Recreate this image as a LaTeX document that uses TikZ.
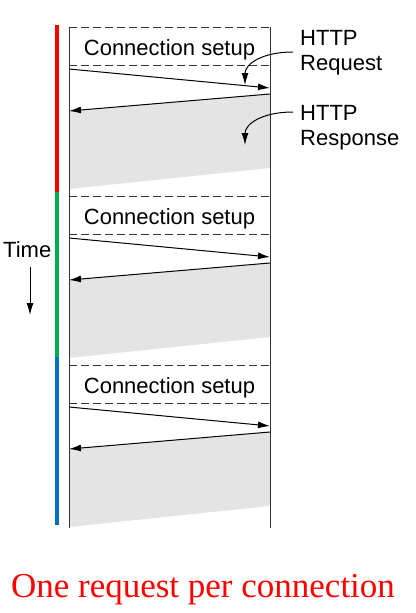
\documentclass[tikz,border=0pt]{standalone}
\usepackage{fontspec}
\setmainfont{Liberation Serif}
\setsansfont{Liberation Sans}
\usetikzlibrary{arrows.meta}
\definecolor{barred}{HTML}{FF0000}
\definecolor{bargreen}{HTML}{00B050}
\definecolor{barblue}{HTML}{0070C0}
\definecolor{respgrey}{HTML}{E4E4E4}
\definecolor{linegrey}{HTML}{333333}
\tikzset{
  dashline/.style={draw=linegrey, line width=0.9pt, dash pattern=on 8pt off 4pt},
  sideline/.style={draw=linegrey, line width=1pt},
  msg/.style={draw=black, line width=1pt, -{Latex[length=12pt,width=7pt]}},
  callout/.style={draw=black, line width=1pt, -{Latex[length=12pt,width=7pt]}},
  lbl/.style={font=\sffamily\fontsize{22}{25}\selectfont, text=black, inner sep=0pt, anchor=base},
  side/.style={font=\sffamily\fontsize{22}{25}\selectfont, text=black, inner sep=0pt, anchor=base west, align=left},
  respfill/.style={fill=respgrey}
}
\begin{document}
\begin{tikzpicture}[x=1pt,y=-1pt]
\useasboundingbox (0,0) rectangle (415,613);
% coloured time bar
\fill[barred] (55,25) rectangle (59,192);
\fill[bargreen] (55,192) rectangle (59,357);
\fill[barblue] (55,357) rectangle (59,525);
% connection blocks
\foreach \i/\y in {1/27,2/196,3/365} {
  \fill[respfill] (69,\y+84) -- (270,\y+67) -- (270,\y+141) -- (69,\y+162) -- cycle;
  \draw[dashline] (69,\y) -- (270,\y);
  \draw[dashline] (69,\y+38) -- (270,\y+38);
  \node[lbl] (setup\i) at (169.5,\y+28) {Connection setup};
  \coordinate (reqA\i) at (69,\y+42);
  \coordinate (reqB\i) at (270,\y+61);
  \coordinate (resA\i) at (270,\y+67);
  \coordinate (resB\i) at (69,\y+84);
  \draw[msg] (reqA\i) -- (reqB\i);
  \draw[msg] (resA\i) -- (resB\i);
}
% client and server lines
\coordinate (cTop) at (69,27);
\coordinate (cBot) at (69,528);
\coordinate (sTop) at (270,27);
\coordinate (sBot) at (270,528);
\draw[sideline] (cTop) -- (cBot);
\draw[sideline] (sTop) -- (sBot);
% time
\node[lbl, anchor=base west] (time) at (3,257) {Time};
\coordinate (tA) at (30,267);
\coordinate (tB) at (30,315);
\draw[callout] (tA) -- (tB);
% callouts
\node[side] (req) at (300,70) {HTTP\\Request};
\node[side] (res) at (300,145) {HTTP\\Response};
\coordinate (rqS) at (293,52);
\coordinate (rqE) at (245,85);
\coordinate (rsS) at (293,112);
\coordinate (rsE) at (245,145);
\draw[callout] (rqS) .. controls (262,52) and (245,64) .. (rqE);
\draw[callout] (rsS) .. controls (262,112) and (245,124) .. (rsE);
% caption
\node[inner sep=0pt, anchor=base, text=barred, font=\fontsize{35}{39}\selectfont] (cap) at (203,597) {One request per connection};
\end{tikzpicture}
\end{document}
